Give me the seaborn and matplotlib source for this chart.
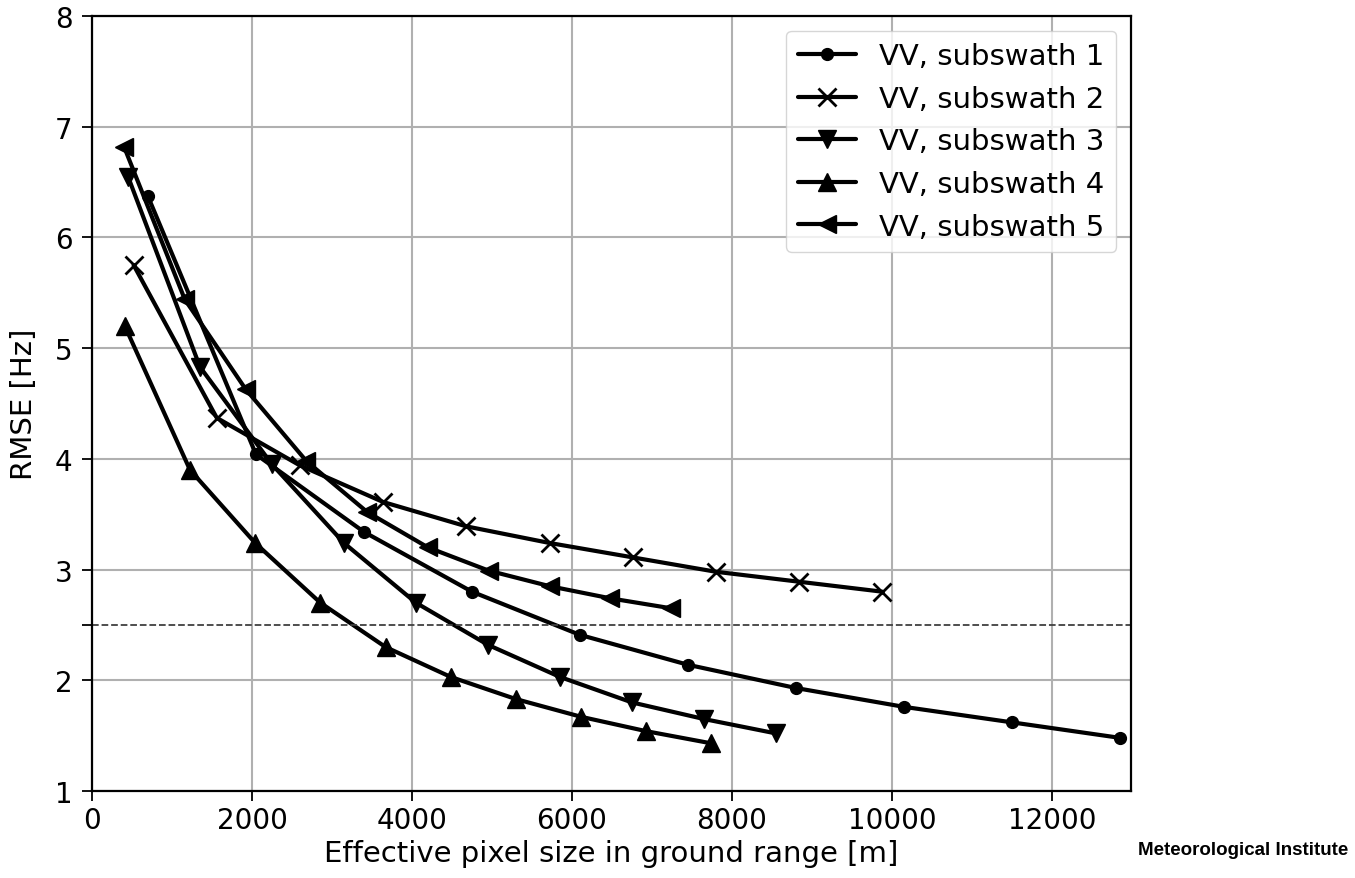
import seaborn as sns
import matplotlib.pyplot as plt
import matplotlib.ticker as mticker

# RMSE vs effective pixel size, VV polarisation, five subswaths
sw1_x = [700, 2050, 3400, 4750, 6100, 7450, 8800, 10150, 11500, 12850]
sw1_y = [6.37, 4.04, 3.34, 2.80, 2.41, 2.14, 1.93, 1.76, 1.62, 1.48]

sw2_x = [520, 1560, 2600, 3640, 4680, 5720, 6760, 7800, 8840, 9880]
sw2_y = [5.75, 4.37, 3.94, 3.61, 3.39, 3.24, 3.11, 2.98, 2.89, 2.80]

sw3_x = [450, 1350, 2250, 3150, 4050, 4950, 5850, 6750, 7650, 8550]
sw3_y = [6.55, 4.83, 3.95, 3.24, 2.70, 2.32, 2.03, 1.80, 1.65, 1.52]

sw4_x = [410, 1225, 2040, 2855, 3670, 4485, 5300, 6115, 6930, 7745]
sw4_y = [5.20, 3.90, 3.24, 2.70, 2.30, 2.03, 1.83, 1.67, 1.54, 1.43]

sw5_x = [400, 1160, 1920, 2680, 3440, 4200, 4960, 5720, 6480, 7240]
sw5_y = [6.82, 5.44, 4.63, 3.98, 3.52, 3.20, 2.99, 2.85, 2.74, 2.65]

labels = ["VV, subswath 1", "VV, subswath 2", "VV, subswath 3",
          "VV, subswath 4", "VV, subswath 5"]
markers = [".", "x", "v", "^", "<"]
threshold = 2.5

sns.set_style("ticks")
plt.rcParams["font.family"] = ["DejaVu Sans"]
for key in ["text.color", "axes.labelcolor", "xtick.color", "ytick.color"]:
    plt.rcParams[key] = "black"

fig, ax = plt.subplots(figsize=(13.55, 8.79), dpi=100)
fig.subplots_adjust(left=0.0679, right=0.8347, top=0.9807, bottom=0.0990)

series = [(sw1_x, sw1_y), (sw2_x, sw2_y), (sw3_x, sw3_y), (sw4_x, sw4_y), (sw5_x, sw5_y)]
for (xs, ys), lab, m in zip(series, labels, markers):
    ms = 17 if m == "." else 13
    sns.lineplot(x=xs, y=ys, ax=ax, color="k", marker=m, markersize=ms,
                 markeredgecolor="k", markerfacecolor="k",
                 markeredgewidth=2 if m == "x" else 1,
                 linewidth=3, label=lab, sort=False)

ax.axhline(threshold, color="0.25", linestyle="--", linewidth=1.3)

ax.set_xlim(0, 12990)
ax.set_ylim(1, 8)
ax.set_xticks([0, 2000, 4000, 6000, 8000, 10000, 12000])
ax.set_yticks([1, 2, 3, 4, 5, 6, 7, 8])
ax.yaxis.set_minor_locator(mticker.FixedLocator([threshold]))
ax.tick_params(axis="y", which="minor", length=7, width=1.3)
ax.tick_params(axis="both", which="major", labelsize=20, length=7, width=1.3)
ax.tick_params(axis="y", which="major", pad=7)
ax.grid(True, color="#b0b0b0", linewidth=1.5)
ax.set_axisbelow(True)
for sp in ax.spines.values():
    sp.set_linewidth(1.6)
    sp.set_color("k")

ax.set_xlabel("Effective pixel size in ground range [m]", fontsize=21)
ax.set_ylabel("RMSE [Hz]", fontsize=21, labelpad=12)

ax.legend(loc="upper right", fontsize=21, framealpha=0.8, edgecolor="0.8")

fig.text(0.840, 0.032, "Meteorological Institute", fontsize=13.5, fontweight="bold",
         family="Liberation Sans", ha="left", va="center")

fig.savefig("out.png", dpi=100)
